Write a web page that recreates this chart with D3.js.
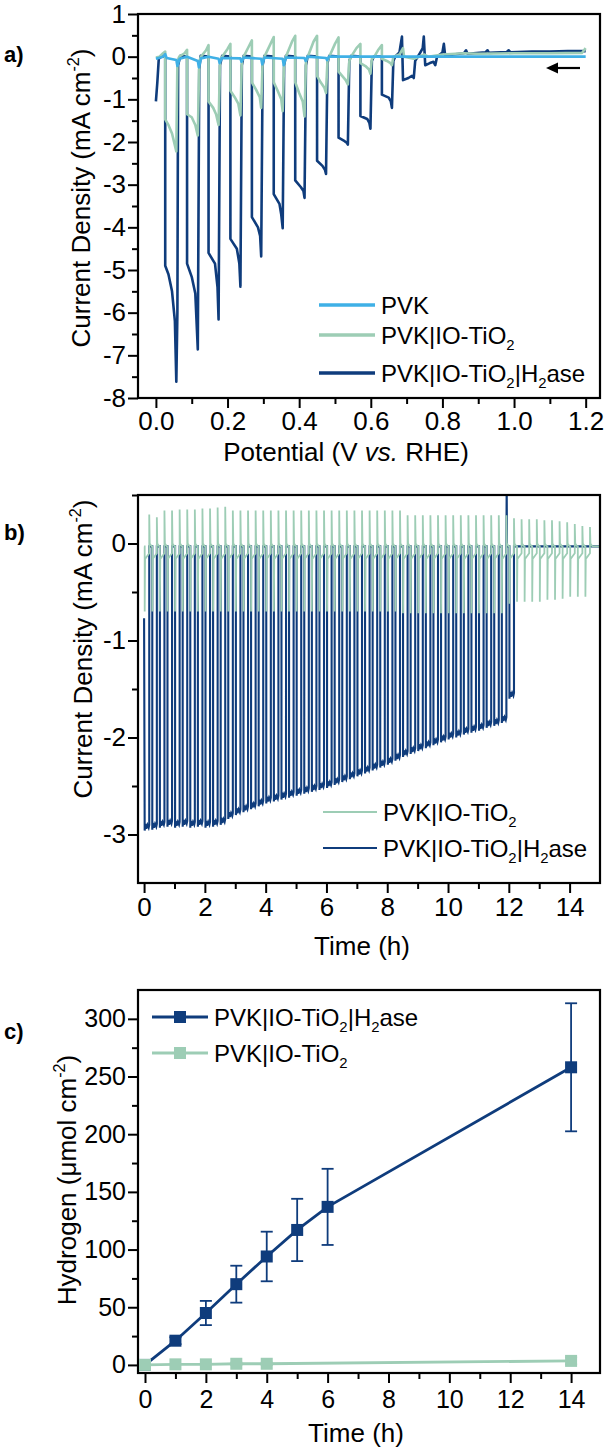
<!DOCTYPE html>
<html><head><meta charset="utf-8">
<script src="https://cdn.jsdelivr.net/npm/d3@7"></script>
<style>body{margin:0;background:#fff} text{font-family:"Liberation Sans",Arial,sans-serif;fill:#000}</style>
</head><body><svg id="c" width="610" height="1450"></svg>
<script>
// ---------- colours ----------
const cDark = "#0f3c7c", cGreen = "#9dcdb5", cLight = "#3fb0e6";

// ---------- panel a data: potential (V vs RHE), current density (mA cm-2) ----------
const aXTicks = [0, 0.2, 0.4, 0.6, 0.8, 1.0, 1.2];
const aXMinor = [0.1, 0.3, 0.5, 0.7, 0.9, 1.1];
const aYTicks = [1, 0, -1, -2, -3, -4, -5, -6, -7, -8];
const aYMinor = [0.5, -0.5, -1.5, -2.5, -3.5, -4.5, -5.5, -6.5, -7.5];
const aH2ase = [[0.000,-1.05],[0.004,-0.6],[0.008,-0.05],[0.015,0.0],[0.026,0.0],
 [0.026,-4.9],[0.035,-5.1],[0.045,-5.5],[0.053,-6.2],[0.057,-7.62],[0.060,-6.0],[0.062,-0.2],[0.068,0.02],[0.087,0.0],
 [0.087,-4.85],[0.100,-5.16],[0.110,-5.55],[0.117,-6.86],[0.121,-0.3],[0.125,0.02],[0.147,0.0],
 [0.147,-4.6],[0.165,-4.85],[0.172,-5.4],[0.175,-6.16],[0.179,-0.2],[0.185,0.02],[0.208,0.0],
 [0.208,-4.27],[0.226,-4.5],[0.233,-4.85],[0.236,-5.39],[0.240,-0.2],[0.245,0.02],[0.268,0.0],
 [0.268,-3.76],[0.285,-4.0],[0.291,-4.2],[0.294,-4.68],[0.298,-0.2],[0.303,0.02],[0.329,0.0],
 [0.329,-3.22],[0.345,-3.45],[0.350,-3.7],[0.354,-4.02],[0.358,-0.2],[0.363,0.02],[0.389,0.0],
 [0.389,-2.9],[0.405,-3.06],[0.412,-3.15],[0.415,-3.31],[0.419,-0.2],[0.424,0.02],[0.450,0.0],
 [0.450,-2.44],[0.465,-2.56],[0.472,-2.65],[0.475,-2.75],[0.479,-0.15],[0.484,0.02],[0.510,0.0],
 [0.510,-1.9],[0.527,-1.98],[0.533,-2.02],[0.536,-2.06],[0.540,-0.1],[0.545,0.02],[0.571,0.0],
 [0.571,-1.39],[0.590,-1.46],[0.596,-1.55],[0.599,-1.69],[0.603,-0.1],[0.608,0.0],[0.631,0.0],
 [0.631,-0.89],[0.650,-0.96],[0.656,-1.05],[0.659,-1.2],[0.663,-0.1],[0.668,0.0],[0.680,0.1],[0.687,0.47],
 [0.690,-0.55],[0.705,-0.5],[0.715,-0.45],[0.720,-0.5],[0.724,-0.1],[0.735,0.05],[0.745,0.2],[0.748,0.47],
 [0.752,-0.2],[0.765,-0.15],[0.775,-0.12],[0.780,-0.2],[0.785,0.0],[0.800,0.1],[0.804,0.3],
 [0.808,0.0],[0.830,0.05],[0.860,0.08],[0.866,0.15],[0.870,0.07],[0.920,0.1],[0.926,0.15],[0.930,0.09],
 [0.980,0.11],[0.985,0.15],[0.990,0.1],[1.050,0.12],[1.100,0.12],[1.150,0.13],[1.200,0.13]];
const aTiO2 = [[0.000,-0.02],[0.010,0.0],[0.020,0.08],[0.026,0.12],
 [0.026,-1.47],[0.035,-1.6],[0.045,-1.8],[0.057,-2.22],[0.060,-0.1],[0.065,0.0],[0.080,0.08],[0.087,0.16],
 [0.087,-1.35],[0.100,-1.42],[0.110,-1.6],[0.117,-1.85],[0.121,-0.1],[0.126,0.0],[0.140,0.15],[0.147,0.27],
 [0.147,-1.05],[0.160,-1.2],[0.168,-1.35],[0.175,-1.6],[0.179,-0.1],[0.185,0.0],[0.200,0.18],[0.208,0.3],
 [0.208,-0.8],[0.220,-0.95],[0.230,-1.1],[0.236,-1.38],[0.240,-0.1],[0.245,0.0],[0.260,0.25],[0.268,0.38],
 [0.268,-0.6],[0.280,-0.78],[0.290,-0.95],[0.294,-1.2],[0.298,-0.1],[0.303,0.0],[0.320,0.3],[0.329,0.46],
 [0.329,-0.6],[0.340,-0.8],[0.350,-1.0],[0.354,-1.28],[0.358,-0.1],[0.363,0.0],[0.380,0.35],[0.389,0.49],
 [0.389,-0.6],[0.400,-0.85],[0.410,-1.05],[0.415,-1.4],[0.419,-0.1],[0.424,0.0],[0.440,0.35],[0.450,0.49],
 [0.450,-0.45],[0.460,-0.6],[0.470,-0.72],[0.475,-0.85],[0.479,-0.1],[0.484,0.0],[0.500,0.3],[0.510,0.45],
 [0.510,-0.35],[0.520,-0.45],[0.530,-0.55],[0.536,-0.65],[0.540,-0.1],[0.545,0.0],[0.560,0.2],[0.571,0.3],
 [0.571,-0.15],[0.585,-0.22],[0.595,-0.3],[0.599,-0.4],[0.603,-0.05],[0.610,0.0],[0.620,0.15],[0.631,0.27],
 [0.631,-0.05],[0.645,-0.1],[0.655,-0.15],[0.659,-0.2],[0.663,0.0],[0.680,0.05],[0.690,0.2],
 [0.693,0.0],[0.720,-0.05],[0.750,0.05],[0.760,0.0],[0.800,0.05],[0.860,0.08],[0.900,0.07],[1.000,0.08],
 [1.100,0.08],[1.190,0.09],[1.200,0.2]];
const aPVK = [[0.000,-0.05],[0.020,0.0],[0.026,0.06],[0.030,-0.03],[0.057,-0.08],[0.060,-0.22],[0.066,-0.05],
 [0.087,0.0],[0.117,-0.1],[0.120,-0.25],[0.126,-0.04],[0.147,0.0],[0.175,-0.05],[0.178,-0.15],[0.184,-0.03],
 [0.236,-0.04],[0.239,-0.12],[0.245,-0.02],[0.294,-0.05],[0.297,-0.18],[0.303,-0.02],[0.354,-0.05],[0.357,-0.2],
 [0.363,-0.02],[0.415,-0.03],[0.418,-0.1],[0.424,0.0],[0.475,-0.03],[0.478,-0.08],[0.484,0.0],[0.600,0.0],
 [0.800,0.0],[1.000,0.0],[1.200,0.0]];

// ---------- panel b data: time (h), current density ----------
const bXTicks = [0, 2, 4, 6, 8, 10, 12, 14];
const bXMinor = [1, 3, 5, 7, 9, 11, 13];
const bYTicks = [0, -1, -2, -3];
const bYMinor = [0.5, -0.5, -1.5, -2.5];
const bOffTimes = [0.17,0.42,0.67,0.92,1.17,1.42,1.67,1.92,2.17,2.42,2.67,2.92,3.17,3.42,3.67,3.92,4.17,4.42,4.67,4.92,
 5.17,5.42,5.67,5.92,6.17,6.42,6.67,6.92,7.17,7.42,7.67,7.92,8.17,8.42,8.67,8.92,9.17,9.42,9.67,9.92,10.17,10.42,
 10.67,10.92,11.17,11.42,11.67,11.92,12.17,12.42,12.67,12.92,13.17,13.42,13.67,13.92,14.17,14.42,14.67];
const bH2aseMin = [-2.96,-2.95,-2.93,-2.92,-2.93,-2.92,-2.93,-2.92,-2.93,-2.92,-2.9,-2.84,-2.8,-2.77,-2.74,-2.71,
 -2.68,-2.66,-2.64,-2.62,-2.6,-2.58,-2.56,-2.54,-2.52,-2.49,-2.46,-2.43,-2.4,-2.37,-2.34,-2.31,-2.28,-2.24,-2.2,
 -2.17,-2.14,-2.11,-2.08,-2.05,-2.02,-2.0,-1.97,-1.95,-1.93,-1.9,-1.88,-1.85,-1.6];
const bH2aseSpike = [11.93, 0.6];
const bTiO2Peak = [0.3,0.27,0.34,0.34,0.35,0.35,0.35,0.36,0.36,0.37,0.38,0.34,0.34,0.34,0.34,0.34,0.34,0.34,0.34,
 0.34,0.34,0.34,0.34,0.34,0.34,0.34,0.34,0.34,0.34,0.34,0.34,0.34,0.34,0.34,0.29,0.29,0.29,0.29,0.29,0.29,0.29,
 0.29,0.29,0.29,0.29,0.29,0.29,0.29,0.26,0.25,0.25,0.25,0.24,0.24,0.23,0.22,0.2,0.18,0.17];
const bTiO2Dip = [-0.7,-0.7,-0.7,-0.7,-0.7,-0.7,-0.7,-0.7,-0.7,-0.7,-0.7,-0.7,-0.7,-0.7,-0.7,-0.7,-0.7,-0.7,-0.7,
 -0.7,-0.7,-0.7,-0.7,-0.7,-0.7,-0.7,-0.7,-0.7,-0.7,-0.7,-0.7,-0.7,-0.7,-0.7,-0.72,-0.72,-0.72,-0.72,-0.72,-0.72,
 -0.72,-0.72,-0.72,-0.72,-0.72,-0.72,-0.72,-0.72,-0.62,-0.6,-0.6,-0.6,-0.6,-0.58,-0.58,-0.57,-0.55,-0.55,-0.55];

// ---------- panel c data: time (h), hydrogen (umol cm-2) ----------
const cXTicks = [0, 2, 4, 6, 8, 10, 12, 14];
const cXMinor = [1, 3, 5, 7, 9, 11, 13];
const cYTicks = [0, 50, 100, 150, 200, 250, 300];
const cYMinor = [25, 75, 125, 175, 225, 275];
const cTimeH2ase = [0, 1, 2, 3, 4, 5, 6, 14];
const cH2ase = [0, 21, 45, 70, 94, 117, 137, 258];
const cH2aseErr = [0, 3, 10.5, 16, 21.5, 27, 33, 55.5];
const cTimeTiO2 = [0, 1, 2, 3, 4, 14];
const cTiO2 = [0, 0.5, 0.5, 1, 1, 3.5];
const cTiO2Err = [0, 0, 0, 1, 1, 3];

// ---------- drawing ----------
const svg = d3.select("#c");
svg.append("rect").attr("width", 610).attr("height", 1450).attr("fill", "#fff");
const X0 = 138, X1 = 600;

function panel(o) {
  const x = d3.scaleLinear().domain(o.xd).range([X0, X1]);
  const y = d3.scaleLinear().domain(o.yd).range([o.bottom, o.top]);
  const id = "clip" + o.name;
  svg.append("clipPath").attr("id", id).append("rect")
    .attr("x", X0).attr("y", o.top).attr("width", X1 - X0).attr("height", o.bottom - o.top);
  const g = svg.append("g");
  const data = g.append("g").attr("clip-path", `url(#${id})`);
  const axes = g.append("g");
  axes.append("g").attr("transform", `translate(0,${o.bottom})`)
    .call(d3.axisBottom(x).tickValues(o.xMinor).tickSize(6).tickFormat(""));
  axes.append("g").attr("transform", `translate(0,${o.bottom})`)
    .call(d3.axisBottom(x).tickValues(o.xMajor).tickSize(10).tickPadding(o.xpad).tickFormat(o.xf));
  axes.append("g").attr("transform", `translate(${X0},0)`)
    .call(d3.axisLeft(y).tickValues(o.yMinor).tickSize(6).tickFormat(""));
  axes.append("g").attr("transform", `translate(${X0},0)`)
    .call(d3.axisLeft(y).tickValues(o.yMajor).tickSize(10).tickPadding(2).tickFormat(o.yf));
  axes.selectAll(".domain").remove();
  axes.selectAll(".tick line").attr("stroke", "#000").attr("stroke-width", 2);
  axes.selectAll(".tick text").attr("font-size", o.fs).attr("fill", "#000")
    .attr("font-family", "Liberation Sans, Arial, sans-serif");
  g.append("rect").attr("x", X0).attr("y", o.top).attr("width", X1 - X0)
    .attr("height", o.bottom - o.top).attr("fill", "none").attr("stroke", "#000").attr("stroke-width", 2.2);
  return { x, y, data, g };
}

function subText(sel, parts, size) {
  parts.forEach(([t, k]) => {
    const ts = sel.append("tspan").text(t);
    if (k === "sub") ts.attr("font-size", size * 0.62).attr("dy", size * 0.28);
    else if (k === "sup") ts.attr("font-size", size * 0.62).attr("dy", -size * 0.42);
    else if (k === "it") ts.attr("font-style", "italic");
    if (k === "after-sub") ts.attr("dy", -size * 0.28);
    if (k === "after-sup") ts.attr("dy", size * 0.42);
  });
}

function panelLabel(txt, yy) {
  svg.append("text").attr("x", 4).attr("y", yy).attr("font-family", "Liberation Serif, serif")
    .attr("font-weight", "bold").attr("font-size", 22).text(txt);
}
const subH2 = [["PVK|IO-TiO", ""], ["2", "sub"], ["|H", "after-sub"], ["2", "sub"], ["ase", "after-sub"]];
const subTi = [["PVK|IO-TiO", ""], ["2", "sub"]];

// ===== Panel a =====
{
  const p = panel({ name: "a", xd: [-0.05, 1.24], yd: [-8, 1], top: 14, bottom: 398, fs: 26, xpad: 4,
    xMajor: aXTicks, xMinor: aXMinor, yMajor: aYTicks, yMinor: aYMinor,
    xf: d => d.toFixed(1), yf: d => String(d) });
  const line = d3.line().x(d => p.x(d[0])).y(d => p.y(d[1]));
  [[aH2ase, cDark], [aTiO2, cGreen], [aPVK, cLight]].forEach(([s, c]) =>
    p.data.append("path").datum(s).attr("d", line).attr("fill", "none").attr("stroke", c)
      .attr("stroke-width", 2.6).attr("stroke-linejoin", "round"));
  svg.append("line").attr("x1", 580).attr("x2", 556).attr("y1", 68).attr("y2", 68).attr("stroke", "#000").attr("stroke-width", 2.2);
  svg.append("path").attr("d", "M546,68 L558,62.5 L558,73.5 Z").attr("fill", "#000");
  const leg = [[cLight, [["PVK", ""]], 305], [cGreen, subTi, 335], [cDark, subH2, 373]];
  leg.forEach(l => {
    const yy = l[2];
    svg.append("line").attr("x1", 319).attr("x2", 375).attr("y1", yy).attr("y2", yy).attr("stroke", l[0]).attr("stroke-width", 3.5);
    subText(svg.append("text").attr("x", 381).attr("y", yy + 8.5).attr("font-size", 24), l[1], 24);
  });
  subText(svg.append("text").attr("x", 346).attr("y", 461).attr("font-size", 26).attr("text-anchor", "middle"),
    [["Potential (V ", ""], ["vs.", "it"], [" RHE)", ""]], 26);
  subText(svg.append("text").attr("transform", "translate(81,198) rotate(-90)").attr("dy", "0.35em")
    .attr("font-size", 26).attr("text-anchor", "middle"), [["Current Density (mA cm", ""], ["-2", "sup"], [")", "after-sup"]], 26);
  panelLabel("a)", 62);
}

// ===== Panel b =====
{
  const p = panel({ name: "b", xd: [-0.2, 15], yd: [-3.5, 0.5], top: 495, bottom: 883, fs: 26, xpad: 5,
    xMajor: bXTicks, xMinor: bXMinor, yMajor: bYTicks, yMinor: bYMinor,
    xf: d => String(d), yf: d => String(d) });
  const line = d3.line().x(d => p.x(d[0])).y(d => p.y(d[1]));
  const h = [[0, -0.77]];
  bH2aseMin.forEach((m, k) => {
    const tOff = bOffTimes[k], tOn = tOff - 0.15;
    if (k > 0) h.push([tOn, -0.03]);
    h.push([tOn, m], [tOn + 0.02, m + 0.07], [tOn + 0.05, m + 0.02], [tOn + 0.09, m + 0.06], [tOff - 0.02, m + 0.03], [tOff, m + 0.06]);
    if (k === bH2aseMin.length - 2) { h.push([tOff, -0.03], [bH2aseSpike[0], bH2aseSpike[1]], [bH2aseSpike[0] + 0.01, -0.03]); }
    else h.push([tOff, -0.03]);
  });
  h.push([15, -0.03]);
  p.data.append("path").datum(h).attr("d", line).attr("fill", "none").attr("stroke", cDark).attr("stroke-width", 2.1);
  const gr = [[0, -0.03]];
  bTiO2Peak.forEach((pk, k) => {
    const tOff = bOffTimes[k], tOn = tOff - 0.15;
    gr.push([tOn, -0.03], [tOn, bTiO2Dip[k]], [tOn + 0.012, -0.16], [tOff, -0.1], [tOff, pk], [tOff + 0.015, 0.0], [tOff + 0.08, -0.03]);
  });
  gr.push([15, -0.03]);
  p.data.append("path").datum(gr).attr("d", line).attr("fill", "none").attr("stroke", cGreen).attr("stroke-width", 1.8);
  [[cGreen, subTi, 812], [cDark, subH2, 848]].forEach(l => {
    const yy = l[2];
    svg.append("line").attr("x1", 323).attr("x2", 377).attr("y1", yy).attr("y2", yy).attr("stroke", l[0]).attr("stroke-width", 1.8);
    subText(svg.append("text").attr("x", 383).attr("y", yy + 8.5).attr("font-size", 24), l[1], 24);
  });
  svg.append("text").attr("x", 362).attr("y", 955).attr("font-size", 26).attr("text-anchor", "middle").text("Time (h)");
  subText(svg.append("text").attr("transform", "translate(83,649) rotate(-90)").attr("dy", "0.35em")
    .attr("font-size", 26).attr("text-anchor", "middle"), [["Current Density (mA cm", ""], ["-2", "sup"], [")", "after-sup"]], 26);
  panelLabel("b)", 540);
}

// ===== Panel c =====
{
  const p = panel({ name: "c", xd: [-0.23, 14.95], yd: [-7, 325], top: 990, bottom: 1373, fs: 25, xpad: 7,
    xMajor: cXTicks, xMinor: cXMinor, yMajor: cYTicks, yMinor: cYMinor,
    xf: d => String(d), yf: d => String(d) });
  const series = [[cTimeH2ase, cH2ase, cH2aseErr, cDark], [cTimeTiO2, cTiO2, cTiO2Err, cGreen]];
  series.forEach(([ts, vs, es, col]) => {
    const pts = ts.map((t, i) => [t, vs[i], es[i]]);
    const gg = svg.append("g");
    gg.append("path").datum(pts).attr("d", d3.line().x(d => p.x(d[0])).y(d => p.y(d[1])))
      .attr("fill", "none").attr("stroke", col).attr("stroke-width", 2.8);
    pts.filter(d => d[2] > 0).forEach(d => {
      const xx = p.x(d[0]), y1 = p.y(d[1] - d[2]), y2 = p.y(d[1] + d[2]);
      gg.append("line").attr("x1", xx).attr("x2", xx).attr("y1", y1).attr("y2", y2).attr("stroke", col).attr("stroke-width", 1.8);
      [y1, y2].forEach(yy => gg.append("line").attr("x1", xx - 6).attr("x2", xx + 6).attr("y1", yy).attr("y2", yy)
        .attr("stroke", col).attr("stroke-width", 1.8));
    });
    gg.selectAll("rect").data(pts).join("rect").attr("x", d => p.x(d[0]) - 6).attr("y", d => p.y(d[1]) - 6)
      .attr("width", 12).attr("height", 12).attr("fill", col);
  });
  [[cDark, subH2, 1017], [cGreen, subTi, 1053]].forEach(l => {
    const yy = l[2];
    svg.append("line").attr("x1", 152).attr("x2", 208).attr("y1", yy).attr("y2", yy).attr("stroke", l[0]).attr("stroke-width", 2.8);
    svg.append("rect").attr("x", 174).attr("y", yy - 6).attr("width", 12).attr("height", 12).attr("fill", l[0]);
    subText(svg.append("text").attr("x", 214).attr("y", yy + 8.5).attr("font-size", 24), l[1], 24);
  });
  svg.append("text").attr("x", 356).attr("y", 1442).attr("font-size", 26).attr("text-anchor", "middle").text("Time (h)");
  subText(svg.append("text").attr("transform", "translate(67,1180) rotate(-90)").attr("dy", "0.35em")
    .attr("font-size", 26).attr("text-anchor", "middle"), [["Hydrogen (\u03bcmol cm", ""], ["-2", "sup"], [")", "after-sup"]], 26);
  panelLabel("c)", 1039);
}
</script></body></html>
